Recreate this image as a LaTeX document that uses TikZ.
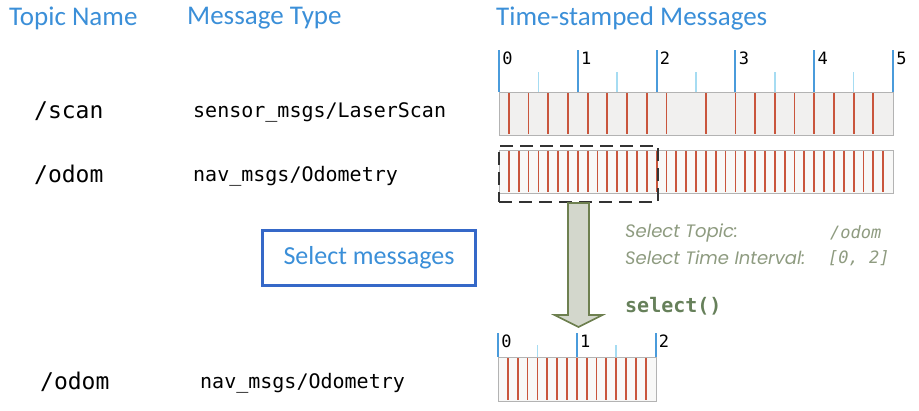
\documentclass[tikz,border=0pt]{standalone}
\usepackage{fontspec}
\setmainfont{Carlito}
\setmonofont{DejaVu Sans Mono}
\newfontfamily\notefont{Poppins}
\usetikzlibrary{positioning, calc}

\definecolor{hdrblue}{HTML}{3B8FD8}
\definecolor{tickblue}{HTML}{4A9BDB}
\definecolor{minorblue}{HTML}{A6DCF2}
\definecolor{msgred}{HTML}{C9553C}
\definecolor{trackgray}{HTML}{B3B3B3}
\definecolor{trackfill}{HTML}{F1F0EF}
\definecolor{notegray}{HTML}{8E9B80}
\definecolor{codegreen}{HTML}{66805A}
\definecolor{arrowfill}{HTML}{D3D7CC}
\definecolor{arrowline}{HTML}{6E8050}
\definecolor{boxblue}{HTML}{3568C8}

\begin{document}
\begin{tikzpicture}[x=1pt, y=-1pt,
    header/.style={anchor=west, inner sep=0pt, text=hdrblue, font=\fontsize{27}{30}\selectfont},
    topic/.style={anchor=west, inner sep=0pt, font=\ttfamily\fontsize{23}{26}\selectfont},
    msgtype/.style={anchor=west, inner sep=0pt, font=\ttfamily\fontsize{20}{23}\selectfont},
    track/.style={draw=trackgray, fill=trackfill, line width=1.2pt, anchor=north west,
                  inner sep=0pt, minimum height=43pt},
    major/.style={draw=tickblue, line width=2pt},
    minor/.style={draw=minorblue, line width=1.6pt},
    msg/.style={draw=msgred, line width=1.8pt},
    digit/.style={anchor=north west, inner sep=0pt, font=\ttfamily\fontsize{17}{19}\selectfont},
    selbox/.style={draw=black!80, line width=2pt, dash pattern=on 13pt off 7pt,
                   anchor=north west, inner sep=0pt},
    bigarrow/.style={draw=arrowline, fill=arrowfill, line width=1.6pt, line join=miter},
    note/.style={anchor=west, inner sep=0pt, text=notegray, font=\notefont\itshape\fontsize{18}{21}\selectfont},
    notecode/.style={anchor=west, inner sep=0pt, text=notegray, font=\ttfamily\itshape\fontsize{17}{19}\selectfont},
    action/.style={draw=boxblue, line width=2.2pt, text=hdrblue, inner sep=0pt,
                   minimum width=213pt, minimum height=55pt, font=\fontsize{26}{30}\selectfont}
]
\useasboundingbox (0,0) rectangle (919,410);

% column headers
\node[header] (hname) at (9,18)   {Topic Name};
\node[header] (htype) at (187,18) {Message Type};
\node[header] (hmsgs) at (496,18) {Time-stamped Messages};

% topics
\node[topic]   (scanname) at (34,111)  {/scan};
\node[msgtype] (scantype) at (193,112) {sensor\_msgs/LaserScan};
\node[topic]   (odomname) at (34,175)  {/odom};
\node[msgtype] (odomtype) at (193,176) {nav\_msgs/Odometry};

% message tracks
\node[track, minimum width=394pt] (scanbox) at (499,92)  {};
\node[track, minimum width=394pt, fill=trackfill!50] (odombox) at (499,150) {};

\begin{scope}[shift={(499,0)}, x=78.8pt]
  \foreach \i in {0,...,5} {
    \draw[major] (\i,50) -- (\i,92);
    \node[digit] at (\i+0.04,52) {\i};
  }
  \foreach \i in {0.5,1.5,...,4.5}
    \draw[minor] (\i,72) -- (\i,92);
  \foreach \t in {0.125,0.375,...,2.2,2.625,3,3.25,...,4.8}
    \draw[msg] (\t,93) -- (\t,134);
  \foreach \t in {0.125,0.25,...,4.9}
    \draw[msg] (\t,151) -- (\t,192);
\end{scope}

% selected interval
\node[selbox, minimum width=159pt, minimum height=56pt] (sel) at (498,145) {};

% notes
\node[note] (seltopic) at (625,233) {Select Topic:};
\node[notecode] (seltopicval) at (830,233) {/odom};
\node[note] (selint) at (625,258) {Select Time Interval:};
\node[notecode] (selintval) at (828,258) {[0, 2]};
\node[anchor=west, inner sep=0pt, text=codegreen, font=\ttfamily\bfseries\fontsize{20}{23}\selectfont]
    (selcall) at (625,306) {select()};

\node[action] (selmsg) at (369,258) {Select messages};

% result
\node[topic]   (resname) at (40,382)  {/odom};
\node[msgtype] (restype) at (200,383) {nav\_msgs/Odometry};
\node[track, minimum width=158pt, minimum height=44pt, fill=trackfill!50] (resbox) at (498,357) {};
\begin{scope}[shift={(498,0)}, x=78.8pt]
  \foreach \i in {0,1,2} {
    \draw[major] (\i,333) -- (\i,357);
    \node[digit] at (\i+0.04,335) {\i};
  }
  \foreach \i in {0.5,1.5}
    \draw[minor] (\i,345) -- (\i,357);
  \foreach \t in {0.125,0.25,...,1.9}
    \draw[msg] (\t,358) -- (\t,400);
\end{scope}

% selection arrow
\coordinate (tip) at (sel.south |- 0,327);
\draw[bigarrow] ($(sel.south)+(-10.5,0)$) -- ($(tip)+(-10.5,-12)$) -- ($(tip)+(-24,-12)$)
    -- (tip) -- ($(tip)+(24,-12)$) -- ($(tip)+(10.5,-12)$) -- ($(sel.south)+(10.5,0)$) -- cycle;
\end{tikzpicture}
\end{document}
